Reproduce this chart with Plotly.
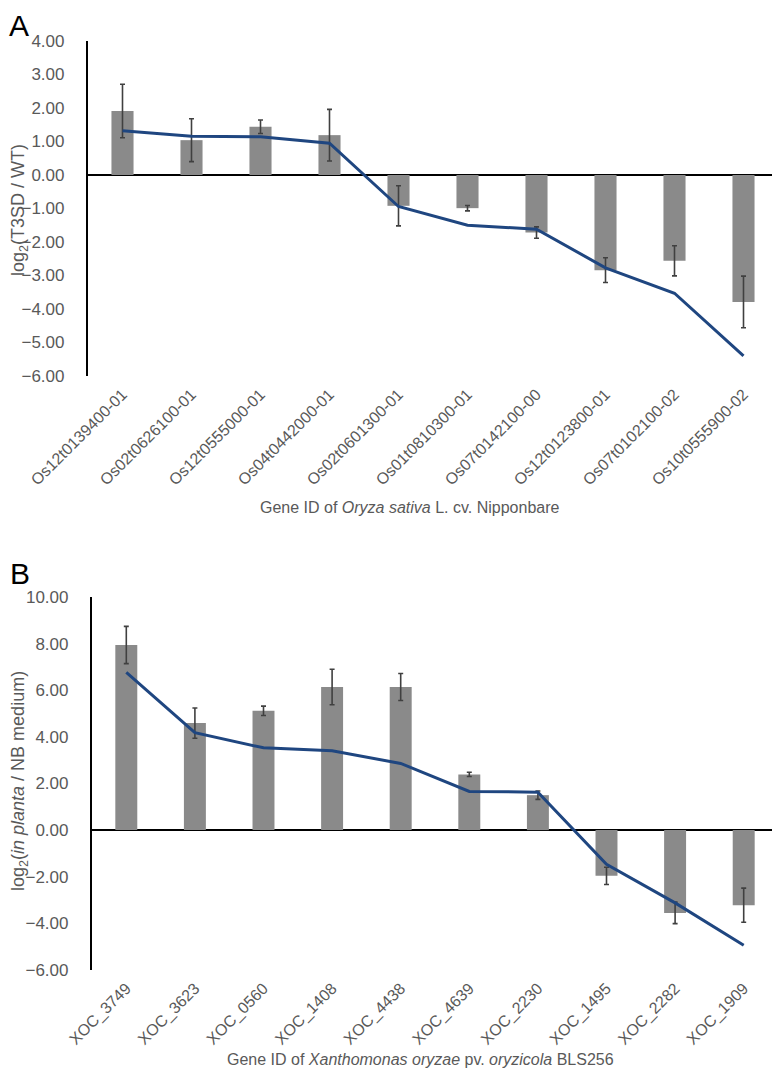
import plotly.graph_objects as go

# ---------------- data ----------------
genes_a = ["Os12t0139400-01", "Os02t0626100-01", "Os12t0555000-01", "Os04t0442000-01",
           "Os02t0601300-01", "Os01t0810300-01", "Os07t0142100-00", "Os12t0123800-01",
           "Os07t0102100-02", "Os10t0555900-02"]
bar_a = [1.91, 1.04, 1.44, 1.19, -0.92, -0.99, -1.72, -2.84, -2.56, -3.79]
err_a = [0.80, 0.64, 0.20, 0.77, 0.60, 0.08, 0.17, 0.37, 0.45, 0.77]
line_a = [1.32, 1.16, 1.14, 0.95, -0.94, -1.50, -1.62, -2.77, -3.53, -5.40]

genes_b = ["XOC_3749", "XOC_3623", "XOC_0560", "XOC_1408", "XOC_4438",
           "XOC_4639", "XOC_2230", "XOC_1495", "XOC_2282", "XOC_1909"]
bar_b = [7.94, 4.59, 5.12, 6.14, 6.14, 2.39, 1.50, -1.96, -3.55, -3.22]
err_b = [0.80, 0.65, 0.20, 0.76, 0.58, 0.09, 0.18, 0.37, 0.46, 0.73]
line_b = [6.77, 4.18, 3.53, 3.40, 2.86, 1.66, 1.63, -1.47, -3.12, -4.94]

yticks_a = [4, 3, 2, 1, 0, -1, -2, -3, -4, -5, -6]
yticks_b = [10, 8, 6, 4, 2, 0, -2, -4, -6]

# ---------------- style ----------------
OFF = 8                      # default page body margin
W, H = 780 - OFF, 1069 - OFF
FONT = "Liberation Sans, Arial, sans-serif"
GREY_TXT = "#595959"
BAR_COL = "#8a8a8a"
LINE_COL = "#1f4680"
ERR_COL = "#404040"


def px_x(p):
    return (p - OFF) / W


def px_y(p):
    return 1 - (p - OFF) / H


fig = go.Figure()

for genes, bars, errs, line, xa, ya in [
    (genes_a, bar_a, err_a, line_a, "x", "y"),
    (genes_b, bar_b, err_b, line_b, "x2", "y2"),
]:
    fig.add_trace(go.Bar(
        x=genes, y=bars, xaxis=xa, yaxis=ya, width=0.32,
        marker=dict(color=BAR_COL, line=dict(width=0)),
        error_y=dict(type="data", array=errs, color=ERR_COL, thickness=1.6, width=2.5),
        showlegend=False,
    ))
    fig.add_trace(go.Scatter(
        x=genes, y=line, xaxis=xa, yaxis=ya, mode="lines",
        line=dict(color=LINE_COL, width=3), showlegend=False,
    ))

common_y = dict(
    showgrid=False, showline=True, linecolor="black", linewidth=2.2,
    zeroline=True, zerolinecolor="black", zerolinewidth=2.2,
    tickformat=".2f", ticks="", ticklabelstandoff=18, automargin=False,
    tickfont=dict(family=FONT, size=17, color=GREY_TXT),
)
common_x = dict(
    showgrid=False, showline=False, zeroline=False, ticks="", automargin=False,
    tickangle=-45, ticklabelstandoff=5,
    tickfont=dict(family=FONT, size=16, color=GREY_TXT),
)

fig.update_layout(
    width=W, height=H, margin=dict(l=0, r=0, t=0, b=0, autoexpand=False),
    paper_bgcolor="white", plot_bgcolor="white",
    xaxis=dict(domain=[px_x(88), px_x(778)], anchor="y", **common_x),
    yaxis=dict(domain=[px_y(376), px_y(41)], anchor="x", range=[-6, 4],
               tickvals=yticks_a, **common_y),
    xaxis2=dict(domain=[px_x(92), px_x(778)], anchor="y2", **common_x),
    yaxis2=dict(domain=[px_y(970), px_y(597)], anchor="x2", range=[-6, 10],
                tickvals=yticks_b, **common_y),
)

ann = [
    dict(text="A", x=px_x(OFF), y=1, xanchor="left", yanchor="top", borderpad=0,
         font=dict(family=FONT, size=30, color="black")),
    dict(text="B", x=px_x(OFF), y=px_y(573), xanchor="left", yanchor="middle",
         font=dict(family=FONT, size=30, color="black")),
    dict(text="log<sub>2</sub>(T3SD / WT)", x=px_x(19), y=px_y(210), textangle=-90,
         xanchor="center", yanchor="middle", font=dict(family=FONT, size=18, color=GREY_TXT)),
    dict(text="log<sub>2</sub>(<i>in planta</i> / NB medium)", x=px_x(19), y=px_y(781),
         textangle=-90, xanchor="center", yanchor="middle",
         font=dict(family=FONT, size=18, color=GREY_TXT)),
    dict(text="Gene ID of <i>Oryza sativa</i> L. cv. Nipponbare", x=px_x(410), y=px_y(507),
         xanchor="center", yanchor="middle", font=dict(family=FONT, size=16, color=GREY_TXT)),
    dict(text="Gene ID of <i>Xanthomonas oryzae</i> pv. <i>oryzicola</i> BLS256", x=px_x(420),
         y=px_y(1059), xanchor="center", yanchor="middle",
         font=dict(family=FONT, size=16, color=GREY_TXT)),
]
for a in ann:
    a.update(xref="paper", yref="paper", showarrow=False)
fig.update_layout(annotations=ann)

fig.write_html("out.html")
